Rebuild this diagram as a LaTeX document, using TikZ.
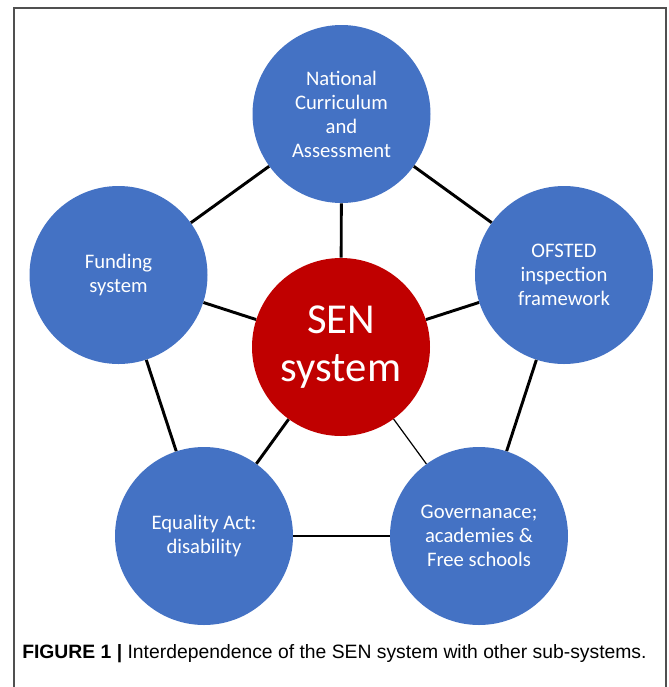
\documentclass[tikz,border=0pt]{standalone}
\usepackage{fontspec}
\setmainfont{Carlito}
\newfontfamily\captionfont{Liberation Sans}
\definecolor{subblue}{HTML}{4472C4}
\definecolor{senred}{HTML}{C00000}
\definecolor{framegray}{HTML}{505050}
\tikzset{
  subsys/.style={circle, fill=subblue, minimum size=133.5pt, inner sep=0pt,
    text=white, align=center, font=\fontsize{15.5}{18}\selectfont},
  core/.style={circle, fill=senred, minimum size=133.5pt, inner sep=0pt,
    text=white, align=center, font=\fontsize{32}{36}\selectfont},
  link/.style={line width=2.2pt},
}
\begin{document}
\begin{tikzpicture}[x=0.75pt,y=-0.75pt]
    \useasboundingbox (0,0) rectangle (669,687);
    \draw[line width=1pt, framegray] (14,690) -- (14,8) -- (666,8) -- (666,690);
    \node[core] (sen) at (341,347) {SEN\\system};
    \node[subsys] (curr) at (341.5,114) {National\\Curriculum\\and\\Assessment};
    \node[subsys] (ofsted) at (564,275) {OFSTED\\inspection\\framework};
    \node[subsys] (gov) at (479,536) {Governanace;\\academies \&\\Free schools};
    \node[subsys] (equal) at (204,536) {Equality Act:\\disability};
    \node[subsys] (fund) at (118.5,275) {Funding\\system};
    \foreach \a/\b in {curr/ofsted, ofsted/gov, gov/equal, equal/fund, fund/curr} {
        \draw[link] (\a) -- (\b);
    }
    \foreach \a in {curr, ofsted, equal, fund} {
        \draw[link] (sen) -- (\a);
    }
    \draw[line width=0.9pt] (sen) -- (gov);
    \node[anchor=base west, inner sep=0pt, font=\captionfont\fontsize{14.5}{17}\selectfont]
        (caption) at (22,658) {\textbf{FIGURE 1 |} Interdependence of the SEN system with other sub-systems.};
\end{tikzpicture}
\end{document}
